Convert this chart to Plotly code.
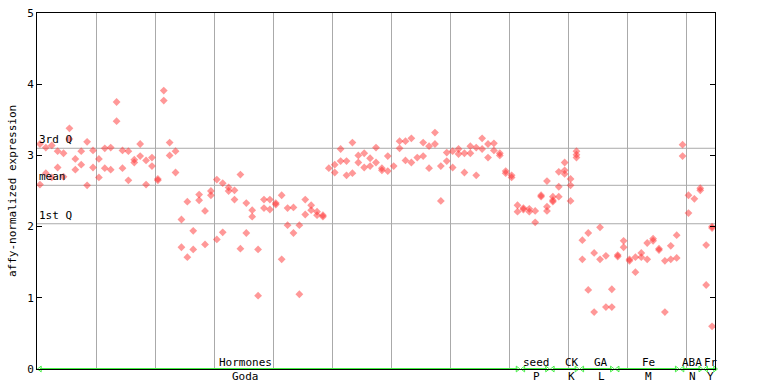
import plotly.graph_objects as go

# expression values per sample (sample index = position in list)
expression = [
    [3.16, 2.59], [3.11, 2.75], [3.14, 2.69], [3.06, 2.83], [3.03, 2.70],
    [3.38, 3.23], [2.95, 2.80], [3.06, 2.87], [3.19, 2.58], [3.07, 2.83],
    [2.95, 2.69], [3.10, 2.82], [3.11, 2.80], [3.75, 3.48], [3.07, 2.82],
    [3.06, 2.65], [2.94, 2.90], [3.16, 2.99], [2.93, 2.59], [2.97, 2.85],
    [2.67, 2.65], [3.91, 3.77], [3.18, 3.00], [3.06, 2.76], [2.10, 1.71],
    [2.35, 1.57], [1.94, 1.68], [2.45, 2.37], [2.22, 1.75], [2.50, 2.44],
    [2.66, 1.82], [2.61, 1.92], [2.55, 2.50], [2.51, 2.38], [2.73, 1.69],
    [2.33, 1.91], [2.23, 2.14], [1.68, 1.03], [2.38, 2.26], [2.38, 2.24],
    [2.33, 2.31], [2.44, 1.54], [2.26, 2.02], [2.27, 1.91], [2.02, 1.05],
    [2.38, 2.17], [2.30, 2.23], [2.21, 2.16], [2.16, 2.14], [2.82],
    [2.87, 2.76], [3.09, 2.92], [2.92, 2.72], [3.18, 2.75], [3.00, 2.90],
    [3.03, 2.83], [2.96, 2.85], [3.11, 2.90], [2.82, 2.79], [2.99, 2.78],
    [2.85], [3.20, 3.10], [3.20, 2.93], [3.24, 2.90], [2.97],
    [3.18, 2.99], [3.13, 2.82], [3.32, 3.16], [2.85, 2.36], [3.04, 2.92],
    [3.06, 2.83], [3.09, 3.02], [3.03, 2.76], [3.13, 3.03], [3.11, 2.72],
    [3.24, 3.09], [3.16, 2.97], [3.17, 3.07], [3.03, 3.00], [2.78, 2.75],
    [2.72, 2.69], [2.30, 2.21], [2.26, 2.24], [2.25, 2.21], [2.22, 2.06],
    [2.44, 2.42], [2.64, 2.28, 2.22], [2.42, 2.37, 2.35], [2.77, 2.56, 2.42], [2.90, 2.79, 2.74],
    [2.67, 2.58, 2.36], [3.06, 3.01, 2.97], [1.81, 1.54], [1.91, 1.11], [1.63, 0.80],
    [1.99, 1.54], [1.59, 0.87], [1.12, 0.87], [1.60, 1.58], [1.80, 1.71],
    [1.54, 1.52], [1.57, 1.36], [1.63, 1.57], [1.77, 1.54], [1.83, 1.80],
    [1.69, 1.67], [1.52, 0.80], [1.73, 1.54], [1.88, 1.56], [3.15, 2.99],
    [2.44, 2.19], [2.39], [2.54, 2.51], [1.74, 1.18], [2.00, 1.98, 0.60],
]

# summary lines
quartile_names = ["3rd Q", "mean", "1st Q"]
quartile_values = [3.10, 2.58, 2.04]

# experiment groups along the x axis
group_names = ["Hormones", "seed", "CK", "GA", "Fe", "ABA", "Fr"]
group_codes = ["Goda", "P", "K", "L", "M", "N", "Y"]
group_start = [0, 82, 87, 92, 98, 109, 113]
group_end = [81, 86, 91, 97, 108, 112, 114.5]
group_label_pos = [34.8, 84.3, 90.2, 95.2, 103.2, 110.6, 113.8]

grid_positions = [9.6 + 10 * k for k in range(11)]
y_ticks = [0, 1, 2, 3, 4, 5]

FONT = "DejaVu Sans Mono"

xs, ys = [], []
for i, vals in enumerate(expression):
    for v in vals:
        xs.append(i)
        ys.append(v)

fig = go.Figure()

# green group bars
for s, e in zip(group_start, group_end):
    fig.add_trace(go.Scatter(
        x=[s, e], y=[0, 0], mode="lines+markers",
        line=dict(color="#44ee44", width=2),
        marker=dict(symbol=["triangle-left-open", "triangle-right-open"], size=5,
                    color="#44ee44", line=dict(width=1, color="#44ee44")),
        cliponaxis=False, hoverinfo="skip", showlegend=False))

fig.add_trace(go.Scatter(
    x=xs, y=ys, mode="markers",
    marker=dict(symbol="diamond", size=6, color="rgba(255,50,50,0.5)", line=dict(width=0)),
    showlegend=False))

for name, val in zip(quartile_names, quartile_values):
    fig.add_shape(type="line", xref="paper", yref="y", x0=0, x1=1, y0=val, y1=val,
                  line=dict(color="#aaaaaa", width=1), layer="below")
    fig.add_annotation(xref="paper", yref="y", x=0, y=val, text=name, showarrow=False,
                       xanchor="left", yanchor="bottom", yshift=0,
                       font=dict(family=FONT, size=11, color="black"))

for name, code, pos in zip(group_names, group_codes, group_label_pos):
    fig.add_annotation(xref="x", yref="paper", x=pos, y=0, text=name, showarrow=False,
                       xanchor="center", yanchor="middle", yshift=7,
                       font=dict(family=FONT, size=11, color="black"))
    fig.add_annotation(xref="x", yref="paper", x=pos, y=0, text=code, showarrow=False,
                       xanchor="center", yanchor="middle", yshift=-7,
                       font=dict(family=FONT, size=11, color="black"))

fig.add_annotation(xref="paper", yref="paper", x=0, y=0.5, xshift=-25,
                   text="affy-normalized expression", textangle=-90, showarrow=False,
                   xanchor="center", yanchor="middle",
                   font=dict(family=FONT, size=11, color="black"))

fig.update_layout(
    width=768, height=384,
    margin=dict(l=37, r=53, t=13, b=15, autoexpand=False),
    paper_bgcolor="white", plot_bgcolor="white",
    xaxis=dict(range=[-0.5, 114.5], tickvals=grid_positions, showticklabels=False,
               ticks="", showgrid=True, gridcolor="#aaaaaa", gridwidth=1, automargin=False,
               showline=True, linecolor="black", linewidth=1, mirror=True, zeroline=False),
    yaxis=dict(range=[0, 5], tickvals=y_ticks, ticks="inside", ticklen=5, tickcolor="black",
               showgrid=False, showline=True, linecolor="black", linewidth=1, mirror="ticks",
               automargin=False, zeroline=False,
               tickfont=dict(family=FONT, size=11, color="black")),
)

fig.write_html("out.html", config={"displayModeBar": False},
               post_script="document.body.style.margin='0';document.body.style.overflow='hidden';")
